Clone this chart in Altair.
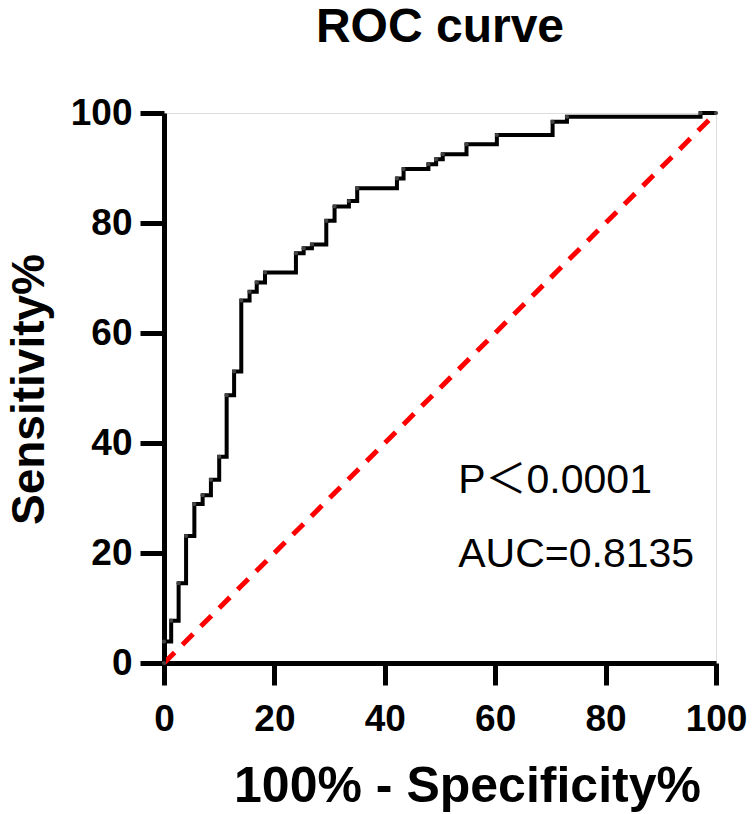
import altair as alt
import pandas as pd

# ROC curve vertices: 100% - Specificity% (x) and Sensitivity% (y)
fpr = [0, 0, 1.3, 2.65, 4.0, 5.5, 7.0, 8.5, 10.0, 11.35, 12.7, 14.0, 15.5, 16.8,
       18.3, 23.9, 25.3, 26.8, 29.4, 30.9, 33.5, 35.0, 42.2, 43.4, 47.9, 49.3,
       50.5, 54.8, 60.3, 70.4, 73.0, 97.2, 100]
tpr = [0, 3.9, 7.7, 14.5, 23.1, 28.9, 30.5, 33.3, 37.5, 48.7, 53.0, 65.9, 67.5,
       69.2, 71.0, 74.5, 75.4, 76.1, 80.4, 83.0, 84.0, 86.3, 88.1, 89.8, 90.7,
       91.6, 92.5, 94.3, 96.0, 98.4, 99.3, 100, 100]

# line of no discrimination
diag_x = [0, 100]
diag_y = [0, 100]

# annotations
ann_text = ["P\uff1c0.0001", "AUC=0.8135"]
ann_x = [53.3, 53.3]
ann_y = [30.9, 17.5]

ticks = [0, 20, 40, 60, 80, 100]
FONT = "Liberation Sans"
FONT_MIXED = "Liberation Sans, Noto Sans CJK SC"

roc = pd.DataFrame({"fpr": fpr, "tpr": tpr})
diag = pd.DataFrame({"fpr": diag_x, "tpr": diag_y})
ann = pd.DataFrame({"label": ann_text, "fpr": ann_x, "tpr": ann_y})

x_scale = alt.Scale(domain=[0, 100], nice=False, zero=False)
y_scale = alt.Scale(domain=[0, 100], nice=False, zero=False)

axis_common = dict(
    values=ticks,
    grid=False,
    domainColor="black",
    domainWidth=5,
    tickColor="black",
    tickWidth=5,
    labelFlush=False,
    labelOverlap=False,
    labelFont=FONT,
    labelFontSize=37,
    labelFontWeight="bold",
    labelColor="black",
    titleFont=FONT,
    titleFontWeight="bold",
    titleColor="black",
)

x_axis = alt.Axis(
    title="100% - Specificity%",
    tickSize=22,
    labelPadding=16,
    titleFontSize=50,
    titleX=303,
    titleY=138,
    titleAlign="center",
    titleBaseline="alphabetic",
    **axis_common,
)
y_axis = alt.Axis(
    title="Sensitivity%",
    tickSize=24,
    labelPadding=8,
    titleFontSize=46,
    titleX=-121,
    titleY=276,
    titleAngle=270,
    titleAlign="center",
    titleBaseline="alphabetic",
    **axis_common,
)

curve = alt.Chart(roc).mark_line(
    color="black", strokeWidth=4, interpolate="step-after"
).encode(
    x=alt.X("fpr:Q", scale=x_scale, axis=x_axis),
    y=alt.Y("tpr:Q", scale=y_scale, axis=y_axis),
)

dots = alt.Chart(roc).mark_point(
    filled=True, color="#444444", size=18, opacity=1
).encode(
    x=alt.X("fpr:Q", scale=x_scale),
    y=alt.Y("tpr:Q", scale=y_scale),
)

ref = alt.Chart(diag).mark_line(
    color="#ff0000", strokeWidth=5, strokeDash=[15, 11]
).encode(
    x=alt.X("fpr:Q", scale=x_scale),
    y=alt.Y("tpr:Q", scale=y_scale),
)

labels = alt.Chart(ann).mark_text(
    align="left", baseline="alphabetic", font=FONT_MIXED, fontSize=41,
    color="black"
).encode(
    x=alt.X("fpr:Q", scale=x_scale),
    y=alt.Y("tpr:Q", scale=y_scale),
    text="label:N",
)

chart = alt.layer(ref, curve, dots, labels).properties(
    width=552,
    height=550,
    title=alt.TitleParams(
        "ROC curve", font=FONT, fontSize=48, fontWeight="bold",
        color="black", anchor="middle", offset=42,
    ),
    autosize=alt.AutoSizeParams(type="none"),
    padding={"left": 164, "top": 113, "right": 36, "bottom": 151},
).configure_view(stroke=None).configure(background="white")

chart.save("out.html", embed_options={"renderer": "svg", "actions": False})
